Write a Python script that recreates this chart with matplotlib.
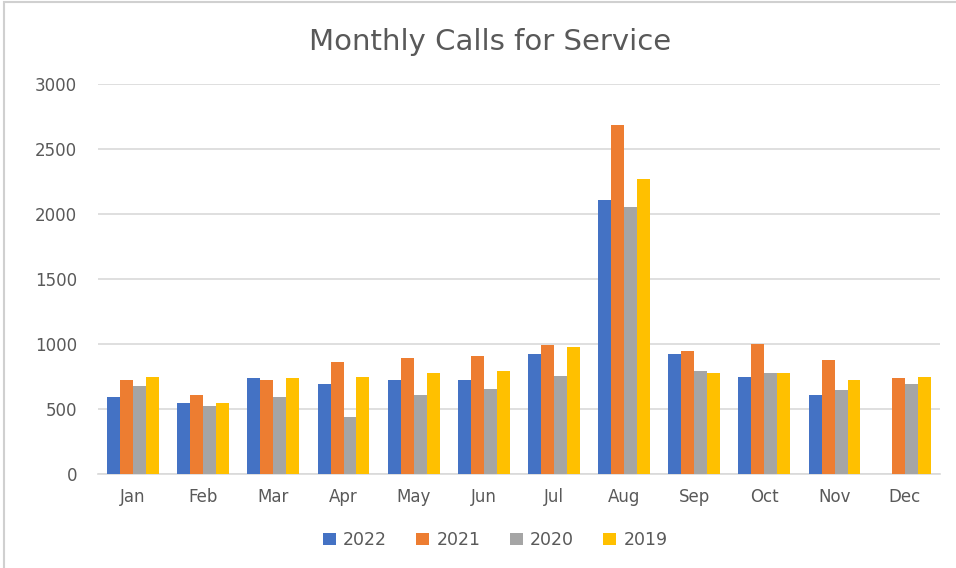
import matplotlib.pyplot as plt
import numpy as np
from matplotlib.patches import Rectangle

months = ["Jan", "Feb", "Mar", "Apr", "May", "Jun", "Jul", "Aug", "Sep", "Oct", "Nov", "Dec"]
years = ["2022", "2021", "2020", "2019"]
calls_2022 = [595, 550, 735, 695, 720, 720, 920, 2110, 920, 750, 610, np.nan]
calls_2021 = [725, 605, 720, 860, 890, 905, 990, 2685, 945, 1000, 880, 740]
calls_2020 = [680, 525, 595, 435, 605, 655, 755, 2055, 790, 780, 650, 690]
calls_2019 = [750, 550, 735, 750, 775, 795, 980, 2270, 780, 775, 720, 745]
colors = ["#4472C4", "#ED7D31", "#A5A5A5", "#FFC000"]

plt.rcParams["font.family"] = ["DejaVu Sans"]
text_color = "#595959"

fig = plt.figure(figsize=(9.56, 5.68), dpi=100)
ax = fig.add_axes([0.1025, 0.1655, 0.8805, 0.6865])

x = np.arange(len(months))
width = 0.185
series = [calls_2022, calls_2021, calls_2020, calls_2019]
for i, (vals, label, col) in enumerate(zip(series, years, colors)):
    ax.bar(x + (i - 1.5) * width, vals, width, color=col, label=label, zorder=3)

ax.set_xlim(-0.5, len(months) - 0.5)
ax.set_ylim(0, 3000)
ax.set_yticks(range(0, 3001, 500))
ax.set_xticks(x)
ax.set_xticklabels(months)
ax.tick_params(axis="both", length=0, labelsize=12, labelcolor=text_color)
ax.tick_params(axis="y", pad=15)
ax.tick_params(axis="x", pad=10)
ax.grid(axis="y", color="#d9d9d9", linewidth=1.2, zorder=0)
for side in ["top", "right", "left"]:
    ax.spines[side].set_visible(False)
ax.spines["bottom"].set_color("#d9d9d9")
ax.spines["bottom"].set_linewidth(1.2)

fig.text(0.513, 0.926, "Monthly Calls for Service", ha="center", va="center",
         fontsize=21, color=text_color)

fig.legend(loc="center", bbox_to_anchor=(0.518, 0.049), ncol=4, frameon=False,
           fontsize=12.5, labelcolor=text_color, handlelength=0.75, handleheight=0.75,
           handletextpad=0.4, columnspacing=1.7)

fig.patches.append(Rectangle((4 / 956, -0.01), 1.0, 1 - 2 / 568 + 0.01,
                             transform=fig.transFigure, fill=False,
                             edgecolor="#d0d0d0", linewidth=1.5))

fig.savefig("out.png", dpi=100)
